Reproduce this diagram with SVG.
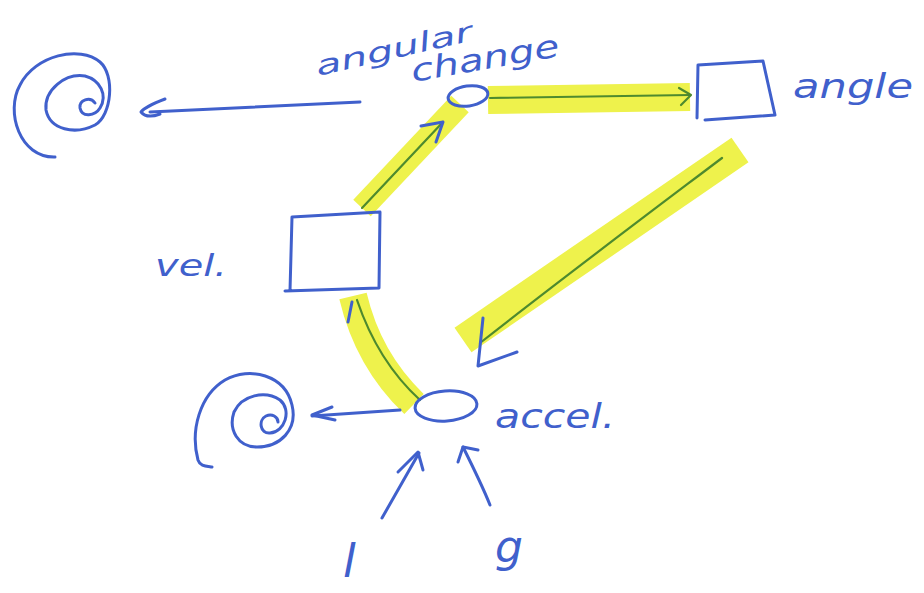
<svg xmlns="http://www.w3.org/2000/svg" width="924" height="593" viewBox="0 0 924 593">
<style>
.ink{fill:none;stroke:#4060cc;stroke-width:3;stroke-linecap:round;stroke-linejoin:round}
.hl{fill:none;stroke:#eef24c;stroke-linecap:butt;stroke-linejoin:round}
.gl{fill:none;stroke:#4e8a2e;stroke-width:2.2;stroke-linecap:round;stroke-linejoin:round}
.lbl{font-family:"DejaVu Sans",sans-serif;font-style:oblique;fill:#4060cc}
</style>
<rect width="924" height="593" fill="#ffffff"/>
<g id="connectors">
  <!-- highlights -->
  <path class="hl" stroke-width="24" d="M362,208 L460,104"/>
  <path class="hl" stroke-width="28" d="M488,100 L690,97"/>
  <path class="hl" stroke-width="30" d="M740,150 L463,340"/>
  <path class="hl" stroke-width="28" d="M353,296 Q368,360 414,404"/>
  <!-- vel -> angular change -->
  <path class="gl" d="M362,208 L443,122"/>
  <path class="ink" d="M421,126 L443,122 L436,142"/>
  <!-- angular change -> angle -->
  <path class="gl" d="M490,98 L690,95"/>
  <path class="gl" d="M679,88 L691,95 L681,105"/>
  <!-- angle -> accel -->
  <path class="gl" d="M722,158 C640,220 560,280 480,343"/>
  <path class="ink" d="M483,318 L478,366 L517,352"/>
  <!-- accel -> vel -->
  <path class="gl" d="M420,400 C398,380 374,350 357,300"/>
  <path class="ink" d="M348,322 L352,302"/>
  <!-- angular change -> cloud -->
  <path class="ink" d="M360,102 L150,112"/>
  <path class="ink" d="M165,99 C152,104 144,108 141,112 C145,117 152,117 160,114"/>
  <!-- accel -> cloud -->
  <path class="ink" d="M400,410 L312,416"/>
  <path class="ink" d="M332,407 L312,415 L335,420"/>
  <!-- l -> accel -->
  <path class="ink" d="M382,518 L419,453"/>
  <path class="ink" d="M398,472 L418,452 L423,470"/>
  <!-- g -> accel -->
  <path class="ink" d="M490,505 C482,485 472,465 463,447"/>
  <path class="ink" d="M458,462 L463,447 L478,450"/>
</g>
<g id="cloud-top">
  <path class="ink" d="M55,157 C20,158 5,112 20,85 C35,55 80,45 100,62 C115,75 112,115 95,125 C75,135 50,130 46,110 C44,90 65,73 85,76 C100,80 108,95 100,108 C95,116 82,118 80,108 C79,100 90,96 95,103"/>
</g>
<g id="angular-change">
  <ellipse class="ink" cx="468" cy="96" rx="20" ry="10" transform="rotate(-8 468 96)"/>
  <text class="lbl" font-size="27" x="318" y="76" transform="rotate(-13 318 76)" textLength="160" lengthAdjust="spacingAndGlyphs">angular</text>
  <text class="lbl" font-size="31" x="413" y="82" transform="rotate(-10 413 82)" textLength="150" lengthAdjust="spacingAndGlyphs">change</text>
</g>
<g id="angle">
  <path class="ink" d="M698,65 L763,61 L775,115 L705,120 M698,65 L697,118"/>
  <text class="lbl" font-size="34" x="793" y="98" textLength="120" lengthAdjust="spacingAndGlyphs">angle</text>
</g>
<g id="vel">
  <path class="ink" d="M292,217 L380,212 L379,288 L285,291 M292,217 L290,291"/>
  <text class="lbl" font-size="30" x="155" y="276" textLength="72" lengthAdjust="spacingAndGlyphs">vel.</text>
</g>
<g id="accel">
  <ellipse class="ink" cx="446" cy="406" rx="31" ry="15" transform="rotate(-4 446 406)"/>
  <text class="lbl" font-size="34" x="495" y="428" textLength="120" lengthAdjust="spacingAndGlyphs">accel.</text>
</g>
<g id="cloud-bottom">
  <path class="ink" d="M212,467 C205,466 200,466 198,460 C190,430 200,395 225,380 C250,366 285,375 292,405 C298,430 280,447 257,447 C238,447 228,430 234,412 C242,395 265,390 280,400 C292,410 285,432 270,433 C260,434 258,420 266,416 C272,413 278,417 278,422"/>
</g>
<g id="l">
  <text class="lbl" font-size="46" x="343" y="577">l</text>
</g>
<g id="g">
  <text class="lbl" font-size="44" x="495" y="562">g</text>
</g>
</svg>
